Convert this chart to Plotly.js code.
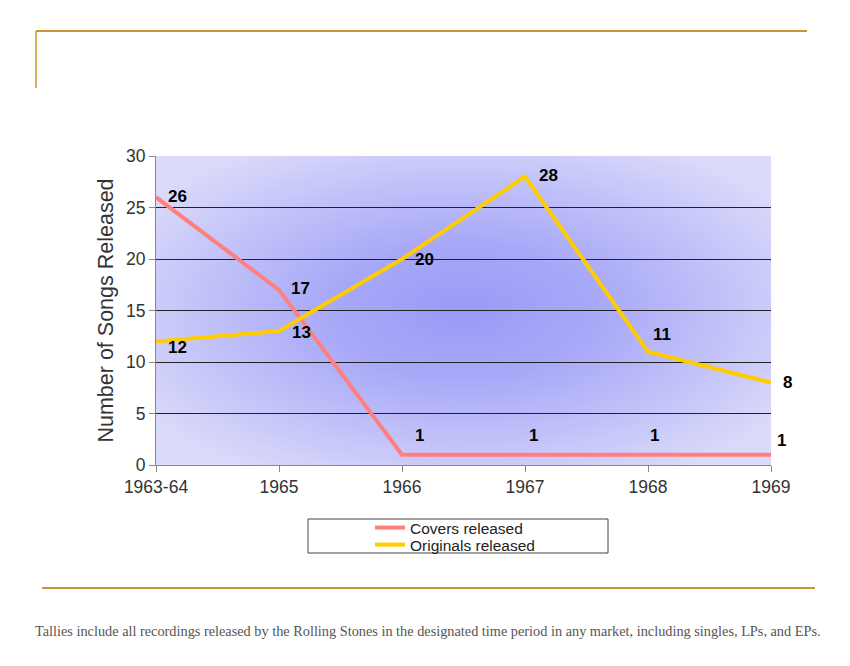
<!DOCTYPE html>
<html>
<head>
<meta charset="utf-8">
<script src="https://cdn.plot.ly/plotly-3.0.1.min.js"></script>
<style>
  html, body { margin: 0; padding: 0; background: #fff; }
  #chart { width: 850px; height: 666px; }
</style>
</head>
<body>
<div id="chart"></div>
<script>
// Data
const periods = ['1963-64', '1965', '1966', '1967', '1968', '1969'];
const covers = [26, 17, 1, 1, 1, 1];
const originals = [12, 13, 20, 28, 11, 8];
const seriesNames = ['Covers released', 'Originals released'];

// label offsets (px) next to each point
const coverShift = [[10, 1], [10, 1], [11, 19], [2, 19], [0, 19], [4, 14]];
const origShift = [[10, -6], [11, -1], [11, 0], [12, 1], [3, 17], [10, 0]];

// plot area in pixels
const L = 156, R = 771, T = 156, B = 465;
const px = x => (x - L) / (R - L);
const py = y => (B - y) / (B - T);

const gold = '#C9962F';
const font = 'Liberation Sans, Arial, sans-serif';

// radial "from center" fill for the plot area
const bgSvg = '<svg xmlns="http://www.w3.org/2000/svg" width="100" height="100" preserveAspectRatio="none">' +
  '<defs><radialGradient id="g" cx="0.5" cy="0.5" r="0.62">' +
  '<stop offset="0" stop-color="#9a9af7"/><stop offset="0.35" stop-color="#a8a8f8"/>' +
  '<stop offset="1" stop-color="#dadafa"/></radialGradient></defs>' +
  '<rect width="100" height="100" fill="url(#g)"/></svg>';

function labels(vals, shifts) {
  return vals.map((v, i) => ({
    x: i, y: v, xref: 'x', yref: 'y', text: String(v), showarrow: false,
    xanchor: 'left', yanchor: 'middle', xshift: shifts[i][0], yshift: shifts[i][1],
    font: { family: font, size: 17, color: '#000', weight: 'bold' }
  }));
}

const traces = [
  {
    x: periods.map((p, i) => i), y: covers, name: seriesNames[0], type: 'scatter', mode: 'lines',
    line: { color: '#FF7F7F', width: 4 }, cliponaxis: false, legend: 'legend'
  },
  {
    x: periods.map((p, i) => i), y: originals, name: seriesNames[1], type: 'scatter', mode: 'lines',
    line: { color: '#FFCC00', width: 4 }, cliponaxis: false, legend: 'legend2'
  }
];

const legendStyle = top => ({
  x: px(370), y: py(top), xanchor: 'left', yanchor: 'top',
  bgcolor: 'rgba(0,0,0,0)', borderwidth: 0,
  font: { family: font, size: 15.5, color: '#222' }
});

const layout = {
  width: 850, height: 666,
  margin: { l: L, r: 850 - R, t: T, b: 666 - B, pad: 0 },
  paper_bgcolor: '#fff',
  plot_bgcolor: 'rgba(0,0,0,0)',
  showlegend: true,
  legend: legendStyle(511),
  legend2: legendStyle(528),
  xaxis: {
    range: [0, 5], tickvals: periods.map((p, i) => i), ticktext: periods,
    showgrid: false, zeroline: false, showline: true, linecolor: '#888', linewidth: 1,
    ticks: 'outside', ticklen: 6, tickcolor: '#888',
    tickfont: { family: font, size: 17.5, color: '#333' }, fixedrange: true
  },
  yaxis: {
    range: [0, 30], dtick: 5, showgrid: true, gridcolor: '#222', gridwidth: 1,
    zeroline: false, showline: true, linecolor: '#888', linewidth: 1,
    ticks: 'outside', ticklen: 6, tickcolor: '#888',
    tickfont: { family: font, size: 17.5, color: '#333' },
    title: { text: 'Number of Songs Released', font: { family: font, size: 21.5, color: '#333' }, standoff: 6 },
    fixedrange: true
  },
  images: [{
    source: 'data:image/svg+xml;charset=utf-8,' + encodeURIComponent(bgSvg),
    xref: 'x', yref: 'y', x: 0, y: 30, sizex: 5, sizey: 30,
    sizing: 'stretch', layer: 'below', xanchor: 'left', yanchor: 'top'
  }],
  shapes: [
    // top frame
    { type: 'line', xref: 'paper', yref: 'paper', x0: px(36), x1: px(807), y0: py(31), y1: py(31), line: { color: gold, width: 2 } },
    { type: 'line', xref: 'paper', yref: 'paper', x0: px(36), x1: px(36), y0: py(31), y1: py(88), line: { color: gold, width: 1.5 } },
    // bottom rule
    { type: 'line', xref: 'paper', yref: 'paper', x0: px(42), x1: px(815), y0: py(588), y1: py(588), line: { color: gold, width: 2 } },
    // legend box
    { type: 'rect', xref: 'paper', yref: 'paper', x0: px(308), x1: px(608), y0: py(519), y1: py(553), line: { color: '#444', width: 1 }, fillcolor: 'rgba(0,0,0,0)' }
  ],
  annotations: labels(covers, coverShift).concat(labels(originals, origShift), [{
    xref: 'paper', yref: 'paper', x: px(428), y: py(631), xanchor: 'center', yanchor: 'middle',
    showarrow: false,
    text: 'Tallies include all recordings released by the Rolling Stones in the designated time period in any market, including singles, LPs, and EPs.',
    font: { family: 'Liberation Serif, Times New Roman, serif', size: 14.3, color: '#555' }
  }])
};

Plotly.newPlot('chart', traces, layout, { displayModeBar: false, staticPlot: true });
</script>
</body>
</html>
